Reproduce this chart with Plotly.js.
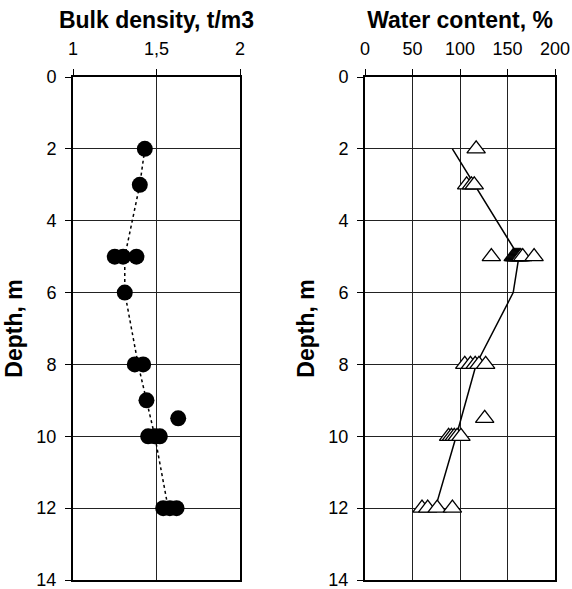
<!DOCTYPE html>
<html><head><meta charset="utf-8">
<script src="https://cdn.plot.ly/plotly-3.0.1.min.js"></script>
<style>html,body{margin:0;padding:0;background:#fff}</style>
</head><body><div id="plot" style="width:572px;height:589px"></div>
<script>
// Bulk density samples (t/m3) and depths (m)
const densityDepth = [2, 3, 5, 5, 5, 6, 8, 8, 9, 9.5, 10, 10, 10, 12, 12, 12];
const densityValue = [1.43, 1.40, 1.25, 1.30, 1.38, 1.31, 1.37, 1.42, 1.44, 1.63, 1.45, 1.49, 1.52, 1.54, 1.58, 1.62];
// Mean density profile (dotted line)
const densityLineDepth = [2, 3, 5, 6, 8, 9, 10, 12];
const densityLineValue = [1.43, 1.40, 1.31, 1.31, 1.39, 1.44, 1.49, 1.57];
// Water content samples (%) and depths (m)
const waterDepth = [2, 3, 3, 3, 5, 5, 5, 5, 5, 5, 5, 5, 5, 5, 5, 5, 8, 8, 8, 8, 8, 9.5, 10, 10, 10, 10, 10, 12, 12, 12, 12];
const waterValue = [117, 107, 112, 115, 133, 156, 157, 158, 159, 160, 161, 162, 163, 164, 166, 178, 105, 111, 116, 120, 127, 126, 88, 91, 94, 97, 101, 60, 66, 76, 92];
// Water content profile (solid line)
const waterLineDepth = [2, 5, 6, 8, 10, 12];
const waterLineValue = [92, 162, 156, 117, 96, 74];

const font = {family: 'Liberation Sans, Arial, sans-serif', color: '#000'};
const yTop = 1 - 77/589, yBot = 1 - 580/589;

const traces = [
  {x: densityLineValue, y: densityLineDepth, mode: 'lines', xaxis: 'x', yaxis: 'y',
   line: {color: '#000', width: 1.5, dash: 'dot'}},
  {x: densityValue, y: densityDepth, mode: 'markers', xaxis: 'x', yaxis: 'y',
   marker: {color: '#000', size: 16, symbol: 'circle'}},
  {x: waterLineValue, y: waterLineDepth, mode: 'lines', xaxis: 'x2', yaxis: 'y2',
   line: {color: '#000', width: 1.5}},
  {x: waterValue, y: waterDepth, mode: 'markers', xaxis: 'x2', yaxis: 'y2',
   marker: {color: '#fff', size: 16, symbol: 'triangle-up', line: {color: '#000', width: 1.3}}}
];

const axisCommon = {
  showgrid: true, gridcolor: '#222', gridwidth: 1, zeroline: false,
  showline: true, linecolor: '#000', linewidth: 2, mirror: true,
  ticks: 'outside', ticklen: 6, tickcolor: '#000', tickwidth: 1,
  ticklabeloverflow: 'allow',
  tickfont: Object.assign({size: 18}, font)
};
const titleFont = Object.assign({size: 23}, font);

const layout = {
  width: 572, height: 589, margin: {l: 0, r: 0, t: 0, b: 0},
  paper_bgcolor: '#fff', plot_bgcolor: '#fff', showlegend: false,
  separators: ', ',
  font: font,
  xaxis: Object.assign({}, axisCommon, {
    domain: [73/572, 240/572], range: [1, 2], dtick: 0.5, tick0: 1, side: 'top', anchor: 'y',
    ticklabelstandoff: 7,
    title: {text: '<b>Bulk density, t/m3</b>', font: titleFont, standoff: 4}
  }),
  yaxis: Object.assign({}, axisCommon, {
    domain: [yBot, yTop], range: [14, 0], dtick: 2, anchor: 'x',
    ticklabelstandoff: 5,
    title: {text: '<b>Depth, m</b>', font: titleFont, standoff: 7}
  }),
  xaxis2: Object.assign({}, axisCommon, {
    domain: [365/572, 555/572], range: [0, 200], dtick: 50, side: 'top', anchor: 'y2',
    ticklabelstandoff: 7,
    title: {text: '<b>Water content, %</b>', font: titleFont, standoff: 4}
  }),
  yaxis2: Object.assign({}, axisCommon, {
    domain: [yBot, yTop], range: [14, 0], dtick: 2, anchor: 'x2',
    ticklabelstandoff: 5,
    title: {text: '<b>Depth, m</b>', font: titleFont, standoff: 7}
  })
};

Plotly.newPlot('plot', traces, layout, {displayModeBar: false, staticPlot: true});
</script></body></html>
